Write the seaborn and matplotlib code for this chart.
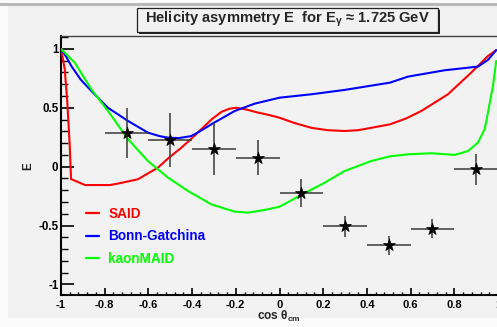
import matplotlib
matplotlib.use("Agg")
import matplotlib.pyplot as plt
from matplotlib.patches import Rectangle
from matplotlib.lines import Line2D
from matplotlib.ticker import MultipleLocator, FixedLocator
import numpy as np
import pandas as pd
import seaborn as sns

# Model curves: helicity asymmetry E vs cos(theta_cm)
said_x = [-1.0, -0.983, -0.971, -0.96, -0.954, -0.89, -0.776, -0.73, -0.648, -0.556,
          -0.51, -0.45, -0.396, -0.312, -0.266, -0.23, -0.198, -0.15, -0.1, -0.05, 0.0,
          0.07, 0.146, 0.22, 0.298, 0.36, 0.42, 0.506, 0.58, 0.649, 0.771, 0.878, 0.954, 0.992]
said_y = [1.0, 0.83, 0.544, 0.176, -0.105, -0.156, -0.156, -0.14, -0.107, -0.008,
          0.07, 0.16, 0.25, 0.40, 0.465, 0.492, 0.50, 0.485, 0.46, 0.44, 0.416,
          0.37, 0.33, 0.31, 0.303, 0.31, 0.33, 0.36, 0.41, 0.473, 0.615, 0.80, 0.94, 0.99]

bonn_x = [-1.0, -0.975, -0.953, -0.91, -0.861, -0.785, -0.693, -0.602, -0.55, -0.51,
          -0.46, -0.404, -0.36, -0.312, -0.205, -0.114, 0.0, 0.146, 0.298, 0.506,
          0.588, 0.756, 0.908, 0.954, 0.992]
bonn_y = [1.0, 0.93, 0.856, 0.74, 0.643, 0.50, 0.388, 0.289, 0.26, 0.246,
          0.243, 0.26, 0.305, 0.36, 0.473, 0.535, 0.586, 0.615, 0.652, 0.714,
          0.765, 0.819, 0.85, 0.907, 0.99]

kmaid_x = [-1.0, -0.937, -0.861, -0.785, -0.693, -0.602, -0.51, -0.419, -0.312, -0.205,
           -0.144, -0.068, 0.0, 0.10, 0.207, 0.298, 0.42, 0.506, 0.588, 0.695,
           0.802, 0.863, 0.908, 0.939, 0.954, 0.977, 0.992]
kmaid_y = [1.0, 0.884, 0.657, 0.473, 0.233, 0.048, -0.093, -0.206, -0.32, -0.382,
           -0.39, -0.368, -0.34, -0.24, -0.136, -0.037, 0.048, 0.088, 0.105, 0.114,
           0.10, 0.133, 0.204, 0.318, 0.459, 0.686, 0.898]

# Measured points
data_x = [-0.7, -0.5, -0.3, -0.1, 0.1, 0.3, 0.5, 0.7, 0.9]
data_e = [0.285, 0.225, 0.148, 0.077, -0.226, -0.507, -0.667, -0.528, -0.022]
data_err = [0.21, 0.23, 0.22, 0.15, 0.12, 0.09, 0.08, 0.08, 0.13]
bin_half = [0.1] * len(data_x)

sns.set_theme(style="white")
plt.rcParams["font.family"] = ["Liberation Sans", "DejaVu Sans"]
plt.rcParams["font.weight"] = "bold"
plt.rcParams["mathtext.fontset"] = "custom"
plt.rcParams["mathtext.rm"] = "Liberation Sans:bold"
plt.rcParams["mathtext.it"] = "Liberation Sans:bold"
plt.rcParams["mathtext.bf"] = "Liberation Sans:bold"

W, H = 497, 327
BG = "#f2f2f2"
fig = plt.figure(figsize=(W / 100, H / 100), dpi=100, facecolor="#fbfbfb")

def fx(px):
    return px / W

def fy(py):
    return 1 - py / H

# canvas panel and its top border
fig.patches.append(Rectangle((fx(8), fy(318)), fx(497) - fx(8), fy(6) - fy(318),
                             transform=fig.transFigure, facecolor=BG, edgecolor="none", zorder=-5))
fig.add_artist(Line2D([0, 1], [fy(4), fy(4)], color="#b8b8b8", lw=2.2,
                      transform=fig.transFigure, zorder=-4))

ax = fig.add_axes([fx(61), fy(295), (498 - 61) / W, (295 - 36) / H])
ax.set_facecolor(BG)

curves = pd.concat([
    pd.DataFrame({"cos": said_x, "E": said_y, "model": "SAID"}),
    pd.DataFrame({"cos": bonn_x, "E": bonn_y, "model": "Bonn-Gatchina"}),
    pd.DataFrame({"cos": kmaid_x, "E": kmaid_y, "model": "kaonMAID"}),
])
palette = {"SAID": "#ff0000", "Bonn-Gatchina": "#0000ff", "kaonMAID": "#00ff00"}
sns.lineplot(data=curves, x="cos", y="E", hue="model", palette=palette,
             estimator=None, sort=False, lw=1.5, ax=ax, zorder=3)

ax.errorbar(data_x, data_e, yerr=data_err, xerr=bin_half, fmt="none",
            ecolor="#3a3a3a", elinewidth=1.1, capsize=0, zorder=4)
sns.scatterplot(x=data_x, y=data_e, marker="*", s=80, color="black",
                edgecolor="black", linewidth=0.5, ax=ax, zorder=5, legend=False)

ax.set_xlim(-1, 1)
ax.set_ylim(-1.09, 1.11)
ax.xaxis.set_major_locator(FixedLocator([-1, -0.8, -0.6, -0.4, -0.2, 0, 0.2, 0.4, 0.6, 0.8, 1]))
ax.xaxis.set_minor_locator(MultipleLocator(0.04))
ax.yaxis.set_major_locator(FixedLocator([-1, -0.5, 0, 0.5, 1]))
ax.yaxis.set_minor_locator(MultipleLocator(0.1))
ax.set_xticklabels(["-1", "-0.8", "-0.6", "-0.4", "-0.2", "0", "0.2", "0.4", "0.6", "0.8", "1"])
ax.set_yticklabels(["-1", "-0.5", "0", "0.5", "1"])

ax.tick_params(axis="x", which="major", direction="in", length=5, width=1.2,
               pad=3.5, labelsize=8, colors="black")
ax.tick_params(axis="x", which="minor", direction="in", length=2.5, width=1.0, colors="black")
ax.tick_params(axis="y", which="major", direction="in", length=9.4, width=1.2,
               pad=1.8, labelsize=8.3, colors="black")
ax.tick_params(axis="y", which="minor", direction="in", length=4.7, width=1.0, colors="black")
ax.tick_params(bottom=True, left=True, which="both")

for side in ("left", "bottom"):
    ax.spines[side].set_color("black")
    ax.spines[side].set_linewidth(1.5)
ax.spines["top"].set_color("#444444")
ax.spines["top"].set_linewidth(1.0)
ax.spines["right"].set_color("#444444")
ax.spines["right"].set_linewidth(1.0)

ax.set_xlabel("")
ax.set_ylabel("")
fig.text(fx(279), fy(316), r"cos $\theta_{cm}$", ha="center", va="center",
         fontsize=8.6, fontweight="bold")
fig.text(fx(28), fy(166), "E", ha="center", va="center", rotation=90,
         fontsize=8.3, fontweight="bold")

handles, labels = ax.get_legend_handles_labels()
leg = ax.legend(handles, labels, loc="upper left", bbox_to_anchor=(fx(86), fy(207)),
                bbox_transform=fig.transFigure, frameon=False, fontsize=9.8,
                handlelength=0.95, handletextpad=0.7, labelspacing=0.62,
                borderpad=0, borderaxespad=0, labelcolor="linecolor")
for t in leg.get_texts():
    t.set_fontweight("bold")
for ln in leg.get_lines():
    ln.set_linewidth(1.6)

# title box with drop shadow
bx0, by0, bx1, by1 = 137, 8, 438, 32
fig.patches.append(Rectangle((fx(bx0 + 2), fy(by1 + 2)), fx(bx1) - fx(bx0), fy(by0) - fy(by1),
                             transform=fig.transFigure, facecolor="#222222", edgecolor="none", zorder=5))
fig.patches.append(Rectangle((fx(bx0), fy(by1)), fx(bx1) - fx(bx0), fy(by0) - fy(by1),
                             transform=fig.transFigure, facecolor=BG, edgecolor="#222222",
                             lw=0.9, zorder=6))
fig.text(fx(287), fy(19.5), r"Helicity asymmetry E  for E$_{\gamma}$ ≈ 1.725 GeV",
         ha="center", va="center", fontsize=10.6, fontweight="bold", zorder=7)

fig.savefig("out.png", dpi=100, facecolor=fig.get_facecolor())
